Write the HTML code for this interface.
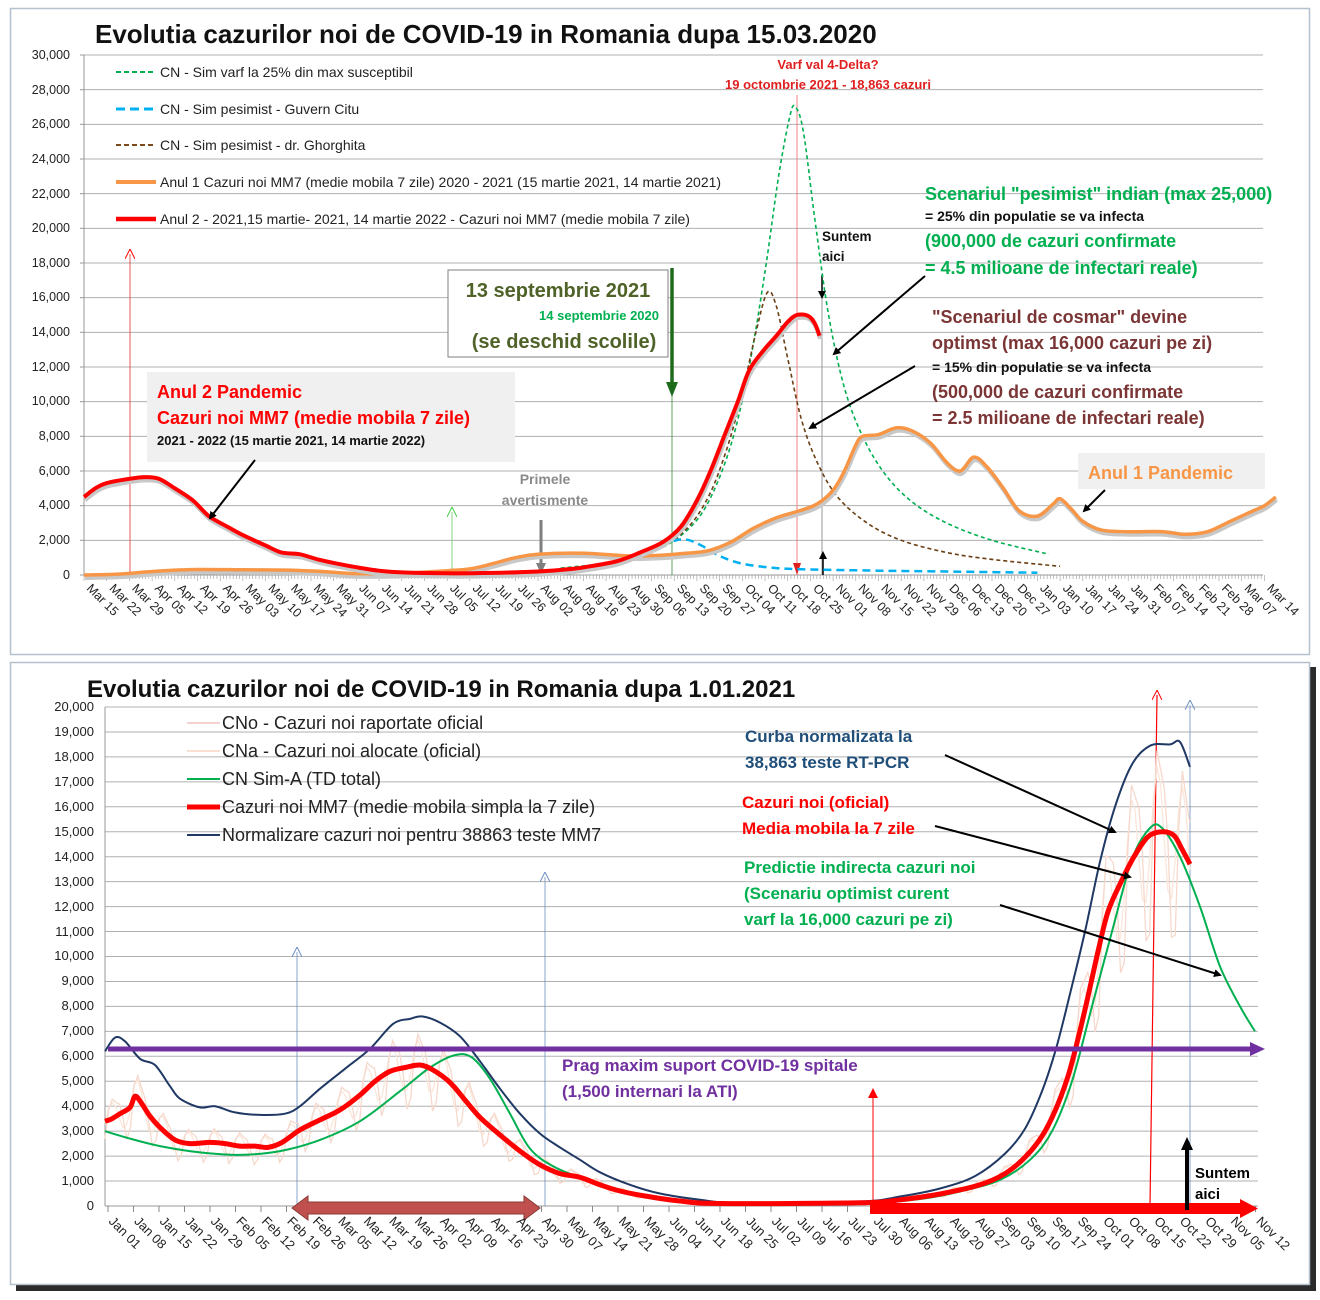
<!DOCTYPE html>
<html><head><meta charset="utf-8">
<style>
html,body{margin:0;padding:0;background:#fff;}
svg{display:block;font-family:"Liberation Sans",sans-serif;}
.n{font-family:"Liberation Sans Narrow","Liberation Sans",sans-serif;}
.b{font-weight:bold;}
</style></head>
<body>
<svg id="s" width="1320" height="1300" viewBox="0 0 1320 1300" xmlns="http://www.w3.org/2000/svg">
<defs>
<marker id="ab" markerWidth="8" markerHeight="8" refX="6" refY="4" orient="auto" markerUnits="userSpaceOnUse"><path d="M0,0 L8,4 L0,8 z" fill="#000"/></marker>
<marker id="ar" markerWidth="10" markerHeight="10" refX="5" refY="5" orient="auto" markerUnits="userSpaceOnUse"><path d="M0,0 L10,5 L0,10" fill="none" stroke="#f00" stroke-width="1"/></marker>
<marker id="ag" markerWidth="10" markerHeight="10" refX="5" refY="5" orient="auto" markerUnits="userSpaceOnUse"><path d="M0,0 L10,5 L0,10" fill="none" stroke="#4c4" stroke-width="1"/></marker>
<marker id="abl" markerWidth="10" markerHeight="10" refX="5" refY="5" orient="auto" markerUnits="userSpaceOnUse"><path d="M0,0 L10,5 L0,10" fill="none" stroke="#6d8fc0" stroke-width="1"/></marker>
<marker id="arf" markerWidth="10" markerHeight="10" refX="8" refY="5" orient="auto" markerUnits="userSpaceOnUse"><path d="M0,0 L10,5 L0,10 z" fill="#f00"/></marker>
</defs>
<rect x="10.5" y="8.5" width="1299" height="646" fill="#fff" stroke="#b4c0cc" stroke-width="1.5"/>
<rect x="16" y="667" width="1300" height="624" fill="#2b2b2b"/>
<rect x="10.5" y="662.5" width="1299" height="622" fill="#fff" stroke="#b4c0cc" stroke-width="1.5"/>

<g id="topgrid"></g>
<g id="botgrid"></g>

<text x="95" y="43" font-size="26" class="b" fill="#111">Evolutia cazurilor noi de COVID-19 in Romania dupa 15.03.2020</text>
<g font-size="12.5" fill="#222" text-anchor="end">
<text x="70" y="59">30,000</text><text x="70" y="94">28,000</text><text x="70" y="128">26,000</text><text x="70" y="163">24,000</text><text x="70" y="198">22,000</text><text x="70" y="232">20,000</text><text x="70" y="267">18,000</text><text x="70" y="301">16,000</text><text x="70" y="336">14,000</text><text x="70" y="371">12,000</text><text x="70" y="405">10,000</text><text x="70" y="440">8,000</text><text x="70" y="475">6,000</text><text x="70" y="509">4,000</text><text x="70" y="544">2,000</text><text x="70" y="579">0</text>
</g>
<g class="n" font-size="14" fill="#222">
<line x1="116" y1="72" x2="156" y2="72" stroke="#00b050" stroke-width="2" stroke-dasharray="5,3"/><text x="160" y="77">CN - Sim varf la 25% din max susceptibil</text>
<line x1="116" y1="109" x2="156" y2="109" stroke="#00b0f0" stroke-width="3" stroke-dasharray="9,5"/><text x="160" y="114">CN - Sim pesimist - Guvern Citu</text>
<line x1="116" y1="145" x2="156" y2="145" stroke="#7a4a1a" stroke-width="2" stroke-dasharray="5,3"/><text x="160" y="150">CN - Sim pesimist  - dr. Ghorghita</text>
<line x1="116" y1="182" x2="156" y2="182" stroke="#f79646" stroke-width="4"/><text x="160" y="187">Anul 1 Cazuri noi MM7 (medie mobila 7 zile) 2020 - 2021 (15 martie 2021, 14 martie 2021)</text>
<line x1="116" y1="219" x2="156" y2="219" stroke="#f00" stroke-width="4.5"/><text x="160" y="224">Anul 2 - 2021,15 martie- 2021, 14 martie 2022 - Cazuri noi MM7 (medie mobila 7 zile)</text>
</g>

<rect x="147" y="372" width="368" height="90" fill="#f0f0f0"/>
<rect x="448" y="270" width="220" height="87" fill="#fff" stroke="#7f7f7f"/>
<rect x="1078" y="453" width="187" height="36" fill="#f0f0f0"/>

<line x1="130" y1="575" x2="130" y2="254" stroke="#e03030" stroke-width="0.8" marker-end="url(#ar)"/>
<line x1="452" y1="575" x2="452" y2="512" stroke="#66cc66" stroke-width="0.8" marker-end="url(#ag)"/>
<line x1="672" y1="575" x2="672" y2="270" stroke="#3a8a3a" stroke-width="0.8"/>
<line x1="672" y1="268" x2="672" y2="385" stroke="#1e6b1e" stroke-width="3.5"/>
<path d="M666,382 L672,397 L678,382 z" fill="#1e6b1e"/>
<line x1="797" y1="575" x2="797" y2="95" stroke="#f08080" stroke-width="1"/>
<path d="M793,563 L797,575 L801,563 z" fill="#e02020"/>
<line x1="822" y1="575" x2="822" y2="275" stroke="#999" stroke-width="1"/>
<line x1="822" y1="275" x2="822" y2="297" stroke="#000" stroke-width="1.5" marker-end="url(#ab)"/>
<line x1="823" y1="575" x2="823" y2="553" stroke="#000" stroke-width="1.5" marker-end="url(#ab)"/>
<line x1="541" y1="520" x2="541" y2="570" stroke="#7f7f7f" stroke-width="3"/>
<path d="M536,563 L541,574 L546,563 z" fill="#7f7f7f"/>

<g id="topseries"></g>

<g class="b">
<text x="828" y="69" font-size="13" fill="#e02020" text-anchor="middle">Varf val 4-Delta?</text>
<text x="828" y="89" font-size="13" fill="#e02020" text-anchor="middle">19 octombrie 2021 - 18,863 cazuri</text>
<text x="925" y="200" font-size="18" fill="#00b050">Scenariul "pesimist" indian (max 25,000)</text>
<text x="925" y="221" font-size="14" fill="#111">= 25% din populatie se va infecta</text>
<text x="925" y="247" font-size="18" fill="#00b050">(900,000 de cazuri confirmate</text>
<text x="925" y="274" font-size="18" fill="#00b050">= 4.5 milioane de infectari reale)</text>
<text x="932" y="323" font-size="18" fill="#7b3535">"Scenariul de cosmar" devine</text>
<text x="932" y="349" font-size="18" fill="#7b3535">optimst (max 16,000 cazuri pe zi)</text>
<text x="932" y="372" font-size="14" fill="#111">= 15% din populatie se va infecta</text>
<text x="932" y="398" font-size="18" fill="#7b3535">(500,000 de cazuri confirmate</text>
<text x="932" y="424" font-size="18" fill="#7b3535">= 2.5 milioane de infectari reale)</text>
<text x="822" y="241" font-size="13.5" fill="#111">Suntem</text>
<text x="822" y="261" font-size="13.5" fill="#111">aici</text>
<text x="545" y="484" font-size="14" fill="#8a8a8a" text-anchor="middle">Primele</text>
<text x="545" y="505" font-size="14" fill="#8a8a8a" text-anchor="middle">avertismente</text>
<text x="558" y="297" font-size="20" fill="#4f6228" text-anchor="middle">13 septembrie 2021</text>
<text x="659" y="320" font-size="13" fill="#00b050" text-anchor="end">14 septembrie 2020</text>
<text x="564" y="348" font-size="20" fill="#4f6228" text-anchor="middle">(se deschid scolile)</text>
<text x="157" y="398" font-size="18" fill="#f00">Anul 2 Pandemic</text>
<text x="157" y="424" font-size="18" fill="#f00">Cazuri noi MM7 (medie mobila 7 zile)</text>
<text x="157" y="445" font-size="13" fill="#111">2021 - 2022 (15 martie 2021, 14 martie 2022)</text>
<text x="1088" y="479" font-size="18" fill="#f79646">Anul 1 Pandemic</text>
</g>
<g stroke="#000" stroke-width="2" marker-end="url(#ab)">
<line x1="255" y1="460" x2="210" y2="518"/>
<line x1="925" y1="276" x2="834" y2="354"/>
<line x1="915" y1="366" x2="810" y2="428"/>
<line x1="1105" y1="490" x2="1084" y2="511"/>
</g>

<g font-size="12.5" fill="#222">
<text transform="translate(86,589) rotate(45)">Mar 15</text>
<text transform="translate(108.7,589) rotate(45)">Mar 22</text>
<text transform="translate(131.4,589) rotate(45)">Mar 29</text>
<text transform="translate(154.1,589) rotate(45)">Apr 05</text>
<text transform="translate(176.8,589) rotate(45)">Apr 12</text>
<text transform="translate(199.5,589) rotate(45)">Apr 19</text>
<text transform="translate(222.2,589) rotate(45)">Apr 26</text>
<text transform="translate(244.9,589) rotate(45)">May 03</text>
<text transform="translate(267.6,589) rotate(45)">May 10</text>
<text transform="translate(290.3,589) rotate(45)">May 17</text>
<text transform="translate(313,589) rotate(45)">May 24</text>
<text transform="translate(335.7,589) rotate(45)">May 31</text>
<text transform="translate(358.4,589) rotate(45)">Jun 07</text>
<text transform="translate(381.1,589) rotate(45)">Jun 14</text>
<text transform="translate(403.8,589) rotate(45)">Jun 21</text>
<text transform="translate(426.5,589) rotate(45)">Jun 28</text>
<text transform="translate(449.2,589) rotate(45)">Jul 05</text>
<text transform="translate(471.9,589) rotate(45)">Jul 12</text>
<text transform="translate(494.6,589) rotate(45)">Jul 19</text>
<text transform="translate(517.3,589) rotate(45)">Jul 26</text>
<text transform="translate(540,589) rotate(45)">Aug 02</text>
<text transform="translate(562.7,589) rotate(45)">Aug 09</text>
<text transform="translate(585.4,589) rotate(45)">Aug 16</text>
<text transform="translate(608.1,589) rotate(45)">Aug 23</text>
<text transform="translate(630.8,589) rotate(45)">Aug 30</text>
<text transform="translate(653.5,589) rotate(45)">Sep 06</text>
<text transform="translate(676.2,589) rotate(45)">Sep 13</text>
<text transform="translate(698.9,589) rotate(45)">Sep 20</text>
<text transform="translate(721.6,589) rotate(45)">Sep 27</text>
<text transform="translate(744.3,589) rotate(45)">Oct 04</text>
<text transform="translate(767,589) rotate(45)">Oct 11</text>
<text transform="translate(789.7,589) rotate(45)">Oct 18</text>
<text transform="translate(812.4,589) rotate(45)">Oct 25</text>
<text transform="translate(835.1,589) rotate(45)">Nov 01</text>
<text transform="translate(857.8,589) rotate(45)">Nov 08</text>
<text transform="translate(880.5,589) rotate(45)">Nov 15</text>
<text transform="translate(903.2,589) rotate(45)">Nov 22</text>
<text transform="translate(925.9,589) rotate(45)">Nov 29</text>
<text transform="translate(948.6,589) rotate(45)">Dec 06</text>
<text transform="translate(971.3,589) rotate(45)">Dec 13</text>
<text transform="translate(994,589) rotate(45)">Dec 20</text>
<text transform="translate(1016.7,589) rotate(45)">Dec 27</text>
<text transform="translate(1039.4,589) rotate(45)">Jan 03</text>
<text transform="translate(1062.1,589) rotate(45)">Jan 10</text>
<text transform="translate(1084.8,589) rotate(45)">Jan 17</text>
<text transform="translate(1107.5,589) rotate(45)">Jan 24</text>
<text transform="translate(1130.2,589) rotate(45)">Jan 31</text>
<text transform="translate(1152.9,589) rotate(45)">Feb 07</text>
<text transform="translate(1175.6,589) rotate(45)">Feb 14</text>
<text transform="translate(1198.3,589) rotate(45)">Feb 21</text>
<text transform="translate(1221,589) rotate(45)">Feb 28</text>
<text transform="translate(1243.7,589) rotate(45)">Mar 07</text>
<text transform="translate(1266.4,589) rotate(45)">Mar 14</text>
</g>

<text x="87" y="697" font-size="24" class="b" fill="#111">Evolutia cazurilor noi de COVID-19 in Romania dupa 1.01.2021</text>
<g font-size="13" fill="#222" text-anchor="end">
<text x="94" y="711">20,000</text><text x="94" y="736">19,000</text><text x="94" y="761">18,000</text><text x="94" y="786">17,000</text><text x="94" y="811">16,000</text><text x="94" y="836">15,000</text><text x="94" y="861">14,000</text><text x="94" y="886">13,000</text><text x="94" y="911">12,000</text><text x="94" y="936">11,000</text><text x="94" y="960">10,000</text><text x="94" y="985">9,000</text><text x="94" y="1010">8,000</text><text x="94" y="1035">7,000</text><text x="94" y="1060">6,000</text><text x="94" y="1085">5,000</text><text x="94" y="1110">4,000</text><text x="94" y="1135">3,000</text><text x="94" y="1160">2,000</text><text x="94" y="1185">1,000</text><text x="94" y="1210">0</text>
</g>
<g font-size="18" fill="#222">
<line x1="187" y1="723" x2="220" y2="723" stroke="#f2c4c4" stroke-width="1.5"/><text x="222" y="729">CNo - Cazuri noi raportate oficial</text>
<line x1="187" y1="751" x2="220" y2="751" stroke="#f7d6c4" stroke-width="1.5"/><text x="222" y="757">CNa - Cazuri noi alocate (oficial)</text>
<line x1="187" y1="779" x2="220" y2="779" stroke="#00b050" stroke-width="2"/><text x="222" y="785">CN Sim-A (TD total)</text>
<line x1="187" y1="807" x2="220" y2="807" stroke="#f00" stroke-width="5"/><text x="222" y="813">Cazuri noi MM7 (medie mobila simpla la 7 zile)</text>
<line x1="187" y1="835" x2="220" y2="835" stroke="#1f3864" stroke-width="2"/><text x="222" y="841">Normalizare cazuri noi pentru 38863 teste MM7</text>
</g>

<line x1="297" y1="1206" x2="297" y2="952" stroke="#6d8fc0" stroke-width="0.8" marker-end="url(#abl)"/>
<line x1="545" y1="1206" x2="545" y2="877" stroke="#6d8fc0" stroke-width="0.8" marker-end="url(#abl)"/>
<line x1="1190" y1="1206" x2="1190" y2="705" stroke="#6d8fc0" stroke-width="0.8" marker-end="url(#abl)"/>
<line x1="873" y1="1206" x2="873" y2="1090" stroke="#f00" stroke-width="1" marker-end="url(#arf)"/>
<line x1="1150" y1="1206" x2="1157" y2="695" stroke="#f00" stroke-width="1.2" marker-end="url(#ar)"/>

<g id="botseries"></g>

<line x1="108" y1="1049" x2="1252" y2="1049" stroke="#7030a0" stroke-width="5"/>
<path d="M1250,1042 L1265,1049 L1250,1056 z" fill="#7030a0"/>
<rect x="870" y="1203" width="372" height="11" fill="#f00"/>
<path d="M1240,1199 L1258,1208.5 L1240,1218 z" fill="#f00"/>
<line x1="1187" y1="1210" x2="1187" y2="1148" stroke="#000" stroke-width="4"/>
<path d="M1181,1150 L1187,1137 L1193,1150 z" fill="#000"/>
<path d="M292,1208 L308,1196 L308,1202 L524,1202 L524,1196 L540,1208 L524,1220 L524,1214 L308,1214 L308,1220 z" fill="#c0504d" stroke="#8c3836" stroke-width="1"/>

<g class="b">
<text x="745" y="742" font-size="17" fill="#1f4e79">Curba normalizata la</text>
<text x="745" y="768" font-size="17" fill="#1f4e79">38,863 teste RT-PCR</text>
<text x="742" y="808" font-size="17" fill="#f00">Cazuri noi (oficial)</text>
<text x="742" y="834" font-size="17" fill="#f00">Media mobila la 7 zile</text>
<text x="744" y="873" font-size="17" fill="#00b050">Predictie indirecta cazuri noi</text>
<text x="744" y="899" font-size="17" fill="#00b050">(Scenariu optimist curent</text>
<text x="744" y="925" font-size="17" fill="#00b050">varf la 16,000 cazuri pe zi)</text>
<text x="562" y="1071" font-size="17" fill="#7030a0">Prag maxim suport COVID-19  spitale</text>
<text x="562" y="1097" font-size="17" fill="#7030a0">(1,500 internari la ATI)</text>
<text x="1195" y="1178" font-size="15" fill="#000">Suntem</text>
<text x="1195" y="1199" font-size="15" fill="#000">aici</text>
</g>
<g stroke="#000" stroke-width="2" marker-end="url(#ab)">
<line x1="945" y1="755" x2="1115" y2="832"/>
<line x1="935" y1="826" x2="1130" y2="877"/>
<line x1="1000" y1="905" x2="1220" y2="975"/>
</g>

<g font-size="13" fill="#222">
<text transform="translate(108,1222) rotate(45)">Jan 01</text>
<text transform="translate(133.5,1222) rotate(45)">Jan 08</text>
<text transform="translate(159,1222) rotate(45)">Jan 15</text>
<text transform="translate(184.5,1222) rotate(45)">Jan 22</text>
<text transform="translate(210,1222) rotate(45)">Jan 29</text>
<text transform="translate(235.5,1222) rotate(45)">Feb 05</text>
<text transform="translate(261,1222) rotate(45)">Feb 12</text>
<text transform="translate(286.5,1222) rotate(45)">Feb 19</text>
<text transform="translate(312,1222) rotate(45)">Feb 26</text>
<text transform="translate(337.5,1222) rotate(45)">Mar 05</text>
<text transform="translate(363,1222) rotate(45)">Mar 12</text>
<text transform="translate(388.5,1222) rotate(45)">Mar 19</text>
<text transform="translate(414,1222) rotate(45)">Mar 26</text>
<text transform="translate(439.5,1222) rotate(45)">Apr 02</text>
<text transform="translate(465,1222) rotate(45)">Apr 09</text>
<text transform="translate(490.5,1222) rotate(45)">Apr 16</text>
<text transform="translate(516,1222) rotate(45)">Apr 23</text>
<text transform="translate(541.5,1222) rotate(45)">Apr 30</text>
<text transform="translate(567,1222) rotate(45)">May 07</text>
<text transform="translate(592.5,1222) rotate(45)">May 14</text>
<text transform="translate(618,1222) rotate(45)">May 21</text>
<text transform="translate(643.5,1222) rotate(45)">May 28</text>
<text transform="translate(669,1222) rotate(45)">Jun 04</text>
<text transform="translate(694.5,1222) rotate(45)">Jun 11</text>
<text transform="translate(720,1222) rotate(45)">Jun 18</text>
<text transform="translate(745.5,1222) rotate(45)">Jun 25</text>
<text transform="translate(771,1222) rotate(45)">Jul 02</text>
<text transform="translate(796.5,1222) rotate(45)">Jul 09</text>
<text transform="translate(822,1222) rotate(45)">Jul 16</text>
<text transform="translate(847.5,1222) rotate(45)">Jul 23</text>
<text transform="translate(873,1222) rotate(45)">Jul 30</text>
<text transform="translate(898.5,1222) rotate(45)">Aug 06</text>
<text transform="translate(924,1222) rotate(45)">Aug 13</text>
<text transform="translate(949.5,1222) rotate(45)">Aug 20</text>
<text transform="translate(975,1222) rotate(45)">Aug 27</text>
<text transform="translate(1000.5,1222) rotate(45)">Sep 03</text>
<text transform="translate(1026,1222) rotate(45)">Sep 10</text>
<text transform="translate(1051.5,1222) rotate(45)">Sep 17</text>
<text transform="translate(1077,1222) rotate(45)">Sep 24</text>
<text transform="translate(1102.5,1222) rotate(45)">Oct 01</text>
<text transform="translate(1128,1222) rotate(45)">Oct 08</text>
<text transform="translate(1153.5,1222) rotate(45)">Oct 15</text>
<text transform="translate(1179,1222) rotate(45)">Oct 22</text>
<text transform="translate(1204.5,1222) rotate(45)">Oct 29</text>
<text transform="translate(1230,1222) rotate(45)">Nov 05</text>
<text transform="translate(1255.5,1222) rotate(45)">Nov 12</text>
</g>
</svg>
<script>
(function(){
var NS="http://www.w3.org/2000/svg";
function el(p,tag,a){var e=document.createElementNS(NS,tag);for(var k in a)e.setAttribute(k,a[k]);p.appendChild(e);return e;}
function smooth(pts){
  var d="M"+pts[0][0].toFixed(1)+","+pts[0][1].toFixed(1);
  for(var i=0;i<pts.length-1;i++){
    var p0=pts[i>0?i-1:i],p1=pts[i],p2=pts[i+1],p3=pts[i+2<pts.length?i+2:i+1];
    var c1x=p1[0]+(p2[0]-p0[0])/6,c1y=p1[1]+(p2[1]-p0[1])/6;
    var c2x=p2[0]-(p3[0]-p1[0])/6,c2y=p2[1]-(p3[1]-p1[1])/6;
    d+=" C"+c1x.toFixed(1)+","+c1y.toFixed(1)+" "+c2x.toFixed(1)+","+c2y.toFixed(1)+" "+p2[0].toFixed(1)+","+p2[1].toFixed(1);
  }
  return d;
}
var tg=document.getElementById("topgrid");
for(var v=2000;v<=30000;v+=2000){var y=575-v*0.017333;el(tg,"line",{x1:84,y1:y,x2:1263,y2:y,stroke:"#b0b0b0","stroke-width":1});}
el(tg,"line",{x1:84,y1:575,x2:1263,y2:575,stroke:"#999","stroke-width":1});
el(tg,"line",{x1:84,y1:55,x2:84,y2:575,stroke:"#999","stroke-width":1});
for(var i=0;i<=364;i++){var x=84+i*22.7/7;el(tg,"line",{x1:x,y1:575,x2:x,y2:i%7==0?581:579,stroke:"#999","stroke-width":0.6});}
for(var v=0;v<=30000;v+=2000){var y=575-v*0.017333;el(tg,"line",{x1:80,y1:y,x2:84,y2:y,stroke:"#999","stroke-width":1});}
function T(a){return a.map(function(p){return [84+p[0]*22.7,575-p[1]*0.017333];});}
var ts=document.getElementById("topseries");
var green=[[21,400],[23,700],[25,1300],[26.5,2500],[27.5,4200],[28.5,7500],[29.3,12000],[30,17500],[30.6,23000],[31.1,26500],[31.35,27000],[31.7,25500],[32.2,20500],[32.8,15000],[33.5,10800],[34.3,8000],[35.3,5800],[36.5,4200],[38,3000],[40,2000],[42.5,1200]];
var brown=[[21,300],[23,600],[25,1300],[26.5,2600],[27.5,4500],[28.3,7200],[29,10500],[29.6,14000],[30.1,16300],[30.5,15500],[31,12500],[31.6,9000],[32.3,6500],[33.2,4500],[34.5,3000],[36,2000],[38,1300],[40,900],[43,500]];
var blue=[[21,250],[23,600],[24.5,1300],[25.8,1900],[26.5,2050],[27.2,1700],[28,1100],[29,650],[30.5,400],[32,320],[35,250],[38,200],[42,130]];
var orange=[[0,0],[1.5,50],[2.5,150],[3.5,250],[5,320],[7,300],[9,280],[10.5,200],[12,80],[14,100],[16,250],[17,350],[18,650],[19,1000],[20,1200],[22,1250],[24,1100],[25.5,1150],[26.5,1250],[27.5,1400],[28.5,1900],[29.5,2700],[30.5,3300],[31.5,3700],[32.3,4100],[33,4900],[33.5,6000],[34,7500],[34.3,8000],[35,8100],[35.8,8500],[36.5,8300],[37.3,7600],[38,6500],[38.6,6000],[39.2,6800],[39.8,6200],[40.5,5000],[41.2,3700],[42,3400],[42.7,4100],[43,4400],[43.5,3800],[44,3100],[44.8,2600],[46,2500],[47.5,2500],[48.5,2350],[49.5,2500],[50.5,3100],[51.5,3700],[52,4000],[52.5,4500]];
var red=[[0,4500],[0.5,5000],[1,5300],[2,5550],[2.7,5650],[3.3,5550],[4,5000],[4.8,4300],[5.5,3400],[6.3,2800],[7,2300],[8,1700],[8.7,1300],[9.5,1200],[10.3,900],[11,700],[12,450],[13,250],[14,150],[16,100],[18,120],[20,200],[21.5,350],[22.5,550],[23.5,800],[24.5,1300],[25.5,1900],[26.3,2800],[27,4300],[27.6,6000],[28.2,8000],[28.8,10000],[29.3,11800],[29.9,12900],[30.5,13800],[31,14600],[31.4,15000],[31.9,14950],[32.2,14500],[32.4,13800]];
el(ts,"path",{d:smooth(T(green)),fill:"none",stroke:"#00b050","stroke-width":1.6,"stroke-dasharray":"4,3"});
el(ts,"path",{d:smooth(T(brown)),fill:"none",stroke:"#6b3f14","stroke-width":1.6,"stroke-dasharray":"4,3"});
el(ts,"path",{d:smooth(T(blue)),fill:"none",stroke:"#00b0f0","stroke-width":2.5,"stroke-dasharray":"8,5"});
var o=T(orange);
el(ts,"path",{d:smooth(o),fill:"none",stroke:"#c8c8c8","stroke-width":4,transform:"translate(1,3)"});
el(ts,"path",{d:smooth(o),fill:"none",stroke:"#f79646","stroke-width":3.5});
var r=T(red);
el(ts,"path",{d:smooth(r),fill:"none",stroke:"#c8c8c8","stroke-width":4.5,transform:"translate(1,3)"});
el(ts,"path",{d:smooth(r),fill:"none",stroke:"#f00","stroke-width":4});
var bg=document.getElementById("botgrid");
for(var v=1000;v<=20000;v+=1000){var y=1206-v*0.02495;el(bg,"line",{x1:105,y1:y,x2:1258,y2:y,stroke:"#b0b0b0","stroke-width":1});}
el(bg,"line",{x1:105,y1:1206,x2:1258,y2:1206,stroke:"#999","stroke-width":1});
el(bg,"line",{x1:105,y1:707,x2:105,y2:1206,stroke:"#999","stroke-width":1});
for(var i=0;i<=45;i++){var x=108+i*25.5;el(bg,"line",{x1:x,y1:1206,x2:x,y2:1212,stroke:"#888","stroke-width":1});}
function B(a){return a.map(function(p){return [p[0],1206-p[1]*0.02495];});}
var bs=document.getElementById("botseries");
var bred=[[105,3400],[112,3500],[120,3700],[130,3950],[135,4400],[141,4150],[150,3600],[160,3150],[175,2650],[190,2500],[210,2550],[225,2500],[240,2400],[255,2400],[268,2350],[282,2550],[300,3050],[320,3450],[340,3850],[360,4450],[375,5000],[390,5400],[405,5550],[420,5650],[433,5450],[450,4950],[465,4250],[480,3550],[500,2850],[520,2200],[540,1650],[560,1300],[580,1150],[600,850],[620,600],[645,400],[680,200],[720,100],[860,130],[900,250],[940,480],[980,850],[1005,1300],[1025,1950],[1042,2800],[1056,3900],[1068,5200],[1078,6700],[1088,8400],[1098,10200],[1108,11800],[1120,12900],[1134,14000],[1148,14800],[1162,15000],[1174,14850],[1182,14300],[1190,13700]];
var bblue=[[105,6200],[115,6750],[125,6600],[140,5900],[155,5650],[170,4800],[180,4300],[200,3950],[215,4000],[235,3750],[260,3650],[285,3700],[300,4000],[320,4700],[345,5500],[370,6300],[393,7300],[410,7500],[422,7600],[440,7350],[460,6800],[480,5800],[500,4700],[520,3700],[540,2900],[560,2350],[580,1850],[600,1350],[630,850],[660,500],[700,250],[740,120],[860,180],[900,380],[940,700],[975,1200],[1005,2100],[1025,3100],[1042,4600],[1056,6300],[1070,8500],[1085,11000],[1100,13800],[1115,16000],[1132,17700],[1150,18450],[1170,18500],[1180,18600],[1190,17600]];
var bgreen=[[105,3000],[130,2700],[160,2400],[200,2150],[240,2050],[280,2200],[320,2650],[360,3400],[400,4600],[430,5550],[455,6050],[472,5950],[490,5100],[510,3700],[530,2300],[555,1550],[590,1000],[620,620],[660,300],[720,100],[860,100],[920,280],[960,580],[1000,1050],[1030,1850],[1052,3000],[1072,5000],[1092,8000],[1112,11000],[1132,13900],[1150,15150],[1162,15150],[1180,14000],[1200,12000],[1220,9600],[1240,8000],[1255,7000]];
function interp(a,x){if(x<=a[0][0])return a[0][1];for(var i=0;i<a.length-1;i++){if(x<=a[i+1][0]){var t=(x-a[i][0])/(a[i+1][0]-a[i][0]);return a[i][1]+t*(a[i+1][1]-a[i][1]);}}return a[a.length-1][1];}
var pk=[],pk2=[];
for(var x=105;x<=1190;x+=3.64){var base=interp(bred,x);var ph=2*Math.PI*(x-108)/25.5;pk.push([x,base*(1+0.25*Math.sin(ph)+0.08*Math.sin(2*ph+1))]);pk2.push([x,base*(1+0.18*Math.sin(ph+0.6))]);}
var pts=B(pk).map(function(p){return p[0].toFixed(1)+","+p[1].toFixed(1);}).join(" ");
var pts2=B(pk2).map(function(p){return p[0].toFixed(1)+","+p[1].toFixed(1);}).join(" ");
el(bs,"polyline",{points:pts2,fill:"none",stroke:"#fbe6da","stroke-width":1.3});
el(bs,"polyline",{points:pts,fill:"none",stroke:"#f6d8cc","stroke-width":1.3});
el(bs,"path",{d:smooth(B(bgreen)),fill:"none",stroke:"#00b050","stroke-width":2});
el(bs,"path",{d:smooth(B(bblue)),fill:"none",stroke:"#1f3864","stroke-width":2});
el(bs,"path",{d:smooth(B(bred)),fill:"none",stroke:"#f00","stroke-width":5});
})();
</script>
</body></html>
